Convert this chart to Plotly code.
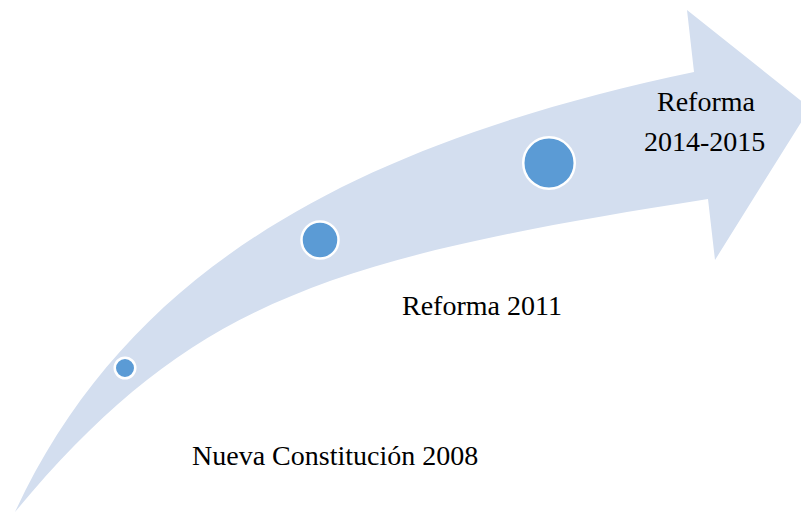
import plotly.graph_objects as go

# --- data -------------------------------------------------------------
event_labels = ["Nueva Constitución 2008", "Reforma 2011", "Reforma", "2014-2015"]
milestone_names = ["2008", "2011", "2014-2015"]

# --- layout / geometry (pixels, y downwards) --------------------------
W, H = 809, 513
OFF = 8  # page body margin compensation
circle_x = [125, 320, 549]
circle_y = [368, 240, 163]
circle_size = [20.5, 37, 51.5]
label_x = [335, 482, 706, 704]
label_y = [455, 305, 101, 141]

band_color = "#D3DEEF"
dot_color = "#5B9BD5"

arrow_path = (
    "M 15,512 C 129,266 358,143 694,72 "
    "L 687,10 L 810,108 L 715,260 L 708,199 "
    "C 325,259 190,302 15,512 Z"
)

fig = go.Figure()

fig.add_trace(go.Scatter(
    x=circle_x, y=circle_y, mode="markers",
    text=milestone_names, hoverinfo="text",
    marker=dict(size=circle_size, color=dot_color, opacity=1,
                line=dict(color="white", width=2.5)),
    showlegend=False,
))

for t, x, y in zip(event_labels, label_x, label_y):
    fig.add_annotation(x=x, y=y, text=t, showarrow=False,
                       xanchor="center", yanchor="middle",
                       font=dict(family="Liberation Serif, Times New Roman, serif",
                                 size=28, color="black"))

fig.update_layout(
    width=W, height=H,
    margin=dict(l=0, r=0, t=0, b=0),
    paper_bgcolor="white", plot_bgcolor="white",
    shapes=[dict(type="path", path=arrow_path, xref="x", yref="y",
                 fillcolor=band_color, line=dict(width=0), layer="below")],
    xaxis=dict(range=[OFF, W + OFF], visible=False, fixedrange=True),
    yaxis=dict(range=[H + OFF, OFF], visible=False, fixedrange=True),
)

fig.write_html("out.html")
